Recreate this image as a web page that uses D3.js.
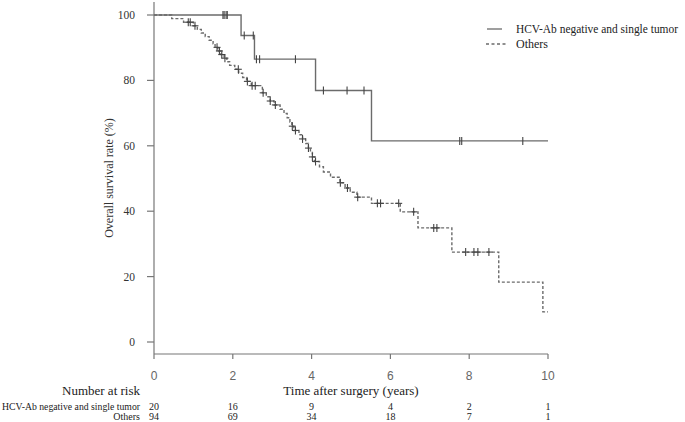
<!DOCTYPE html>
<html lang="en">
<head>
<meta charset="utf-8">
<title>Overall survival</title>
<script src="https://cdn.jsdelivr.net/npm/d3@7"></script>
<style>
  body { margin: 0; background: #fff; }
  svg text { font-family: "Liberation Serif", "Times New Roman", serif; fill: #222; }
</style>
</head>
<body>
<script>
// Kaplan-Meier steps (time in years, survival in %)
const hcvTimes = [0, 2.21, 2.55, 4.1, 5.52];
const hcvSurv = [100, 93.75, 86.5, 76.9, 61.5];
const hcvCensor = [1.75, 1.78, 1.83, 1.86, 2.29, 2.52, 2.6, 2.68, 3.59, 4.3, 4.9, 5.33, 7.76, 7.81, 9.36];

const othersTimes = [0, 0.45, 0.75, 1.0, 1.1, 1.2, 1.3, 1.4, 1.5, 1.55, 1.62, 1.7, 1.78, 1.85, 1.92,
  2.05, 2.15, 2.25, 2.35, 2.47, 2.75, 2.85, 2.95, 3.05, 3.2, 3.3, 3.38, 3.45, 3.5, 3.55, 3.68, 3.77,
  3.85, 3.92, 3.97, 4.02, 4.07, 4.2, 4.3, 4.48, 4.72, 4.85, 4.98, 5.15, 5.52, 6.25, 6.7, 7.56, 8.75, 9.87];
const othersSurv = [100, 98.9, 97.8, 96.7, 95.6, 94.5, 93.4, 92.3, 91.2, 90.1, 89.0, 87.9, 86.8, 85.7, 84.6,
  83.4, 82.2, 80.9, 79.7, 78.4, 76.2, 75.0, 73.7, 72.5, 71.2, 69.9, 68.6, 67.3, 66.0, 64.7, 63.4, 62.1,
  60.7, 59.3, 58.0, 56.6, 55.2, 53.6, 52.0, 50.4, 48.7, 47.1, 45.8, 44.3, 42.4, 39.8, 34.9, 27.5, 18.3, 9.2];
const othersCensor = [0.87, 0.92, 1.04, 1.6, 1.66, 1.72, 1.8, 2.14, 2.37, 2.49, 2.57, 2.77, 2.95, 3.08,
  3.51, 3.59, 3.77, 3.92, 4.02, 4.1, 4.73, 4.91, 5.17, 5.67, 5.75, 6.21, 6.59, 7.1, 7.18, 7.91, 8.12, 8.22, 8.5];

const groups = ["HCV-Ab negative and single tumor", "Others"];
const riskTimes = [0, 2, 4, 6, 8, 10];
const riskHcv = [20, 16, 9, 4, 2, 1];
const riskOthers = [94, 69, 34, 18, 7, 1];
const xTicks = [0, 2, 4, 6, 8, 10];
const yTicks = [0, 20, 40, 60, 80, 100];

const W = 685, H = 422;
const x = d3.scaleLinear().domain([0, 10]).range([154, 548]);
const y = d3.scaleLinear().domain([0, 100]).range([342, 15]);
const axisY = 354;
const lineColor = "#6b6b6b";

const svg = d3.select("body").append("svg")
  .attr("width", W).attr("height", H);

// y axis (base-R style, drawn by hand)
svg.append("line")
  .attr("x1", x(0)).attr("x2", x(0))
  .attr("y1", y(104)).attr("y2", axisY)
  .attr("stroke", "#777").attr("stroke-width", 1.2);
const yt = svg.append("g").selectAll("g").data(yTicks).enter().append("g");
yt.append("line")
  .attr("x1", x(0) - 7).attr("x2", x(0))
  .attr("y1", d => y(d)).attr("y2", d => y(d))
  .attr("stroke", "#777").attr("stroke-width", 1.2);
yt.append("text")
  .attr("x", 135).attr("y", d => y(d) + 4)
  .attr("text-anchor", "end")
  .attr("font-size", "11.5px")
  .style("fill", "#333")
  .text(d => d);

svg.append("text")
  .attr("transform", "translate(113,178) rotate(-90)")
  .attr("text-anchor", "middle")
  .attr("font-size", "12px")
  .style("fill", "#333")
  .text("Overall survival rate (%)");

// x axis
svg.append("line")
  .attr("x1", x(0)).attr("x2", x(10))
  .attr("y1", axisY).attr("y2", axisY)
  .attr("stroke", "#777").attr("stroke-width", 1.2);
const xt = svg.append("g").selectAll("g").data(xTicks).enter().append("g");
xt.append("line")
  .attr("x1", d => x(d)).attr("x2", d => x(d))
  .attr("y1", axisY).attr("y2", axisY + 5)
  .attr("stroke", "#777").attr("stroke-width", 1.2);
xt.append("text")
  .attr("x", d => x(d)).attr("y", 380)
  .attr("text-anchor", "middle")
  .attr("font-size", "12px")
  .style("font-family", "'Liberation Sans', Arial, sans-serif")
  .style("fill", "#666")
  .text(d => d);

svg.append("text")
  .attr("x", 351).attr("y", 395)
  .attr("text-anchor", "middle")
  .attr("font-size", "13px")
  .text("Time after surgery (years)");

// survival curves
function stepPoints(times, surv) {
  const pts = times.map((t, i) => [t, surv[i]]);
  pts.push([10, surv[surv.length - 1]]);
  return pts;
}
function survAt(times, surv, t) {
  let s = surv[0];
  for (let i = 0; i < times.length; i++) if (times[i] <= t) s = surv[i];
  return s;
}
const line = d3.line()
  .x(d => x(d[0])).y(d => y(d[1]))
  .curve(d3.curveStepAfter);

svg.append("path")
  .attr("d", line(stepPoints(hcvTimes, hcvSurv)))
  .attr("fill", "none").attr("stroke", lineColor).attr("stroke-width", 1.4);
svg.append("path")
  .attr("d", line(stepPoints(othersTimes, othersSurv)))
  .attr("fill", "none").attr("stroke", lineColor).attr("stroke-width", 1.4)
  .attr("stroke-dasharray", "3,2");

function censorMarks(times, surv, cens, cross) {
  const g = svg.append("g").selectAll("g").data(cens).enter().append("g")
    .attr("transform", t => `translate(${x(t)},${y(survAt(times, surv, t))})`);
  g.append("line").attr("x1", 0).attr("x2", 0).attr("y1", -4).attr("y2", 4)
    .attr("stroke", "#444").attr("stroke-width", 1.1);
  if (cross) {
    g.append("line").attr("x1", -3.5).attr("x2", 3.5).attr("y1", 0).attr("y2", 0)
      .attr("stroke", "#444").attr("stroke-width", 1.1);
  }
}
censorMarks(hcvTimes, hcvSurv, hcvCensor, false);
censorMarks(othersTimes, othersSurv, othersCensor, true);

// legend
const legend = svg.append("g");
legend.append("line").attr("x1", 487).attr("x2", 502).attr("y1", 29).attr("y2", 29)
  .attr("stroke", lineColor).attr("stroke-width", 1.3);
legend.append("line").attr("x1", 486).attr("x2", 506).attr("y1", 44).attr("y2", 44)
  .attr("stroke", lineColor).attr("stroke-width", 1.3).attr("stroke-dasharray", "3,2.5");
legend.selectAll("text").data(groups).enter().append("text")
  .attr("x", 516).attr("y", (d, i) => 33 + i * 15)
  .attr("font-size", "12px")
  .attr("textLength", (d, i) => i === 0 ? 162 : null)
  .attr("lengthAdjust", "spacingAndGlyphs")
  .text(d => d);

// number at risk table
svg.append("text")
  .attr("x", 140).attr("y", 395)
  .attr("text-anchor", "end")
  .attr("font-size", "13px")
  .text("Number at risk");

const rows = [riskHcv, riskOthers];
rows.forEach((vals, r) => {
  const ry = 410 + r * 10;
  svg.append("text")
    .attr("x", 140).attr("y", ry)
    .attr("text-anchor", "end")
    .attr("font-size", "10px")
    .attr("textLength", r === 0 ? 138 : null)
    .attr("lengthAdjust", "spacingAndGlyphs")
    .text(groups[r]);
  svg.append("g").selectAll("text").data(vals).enter().append("text")
    .attr("x", (d, i) => x(riskTimes[i])).attr("y", ry)
    .attr("text-anchor", "middle")
    .attr("font-size", "10px")
    .text(d => d);
});
</script>
</body>
</html>
